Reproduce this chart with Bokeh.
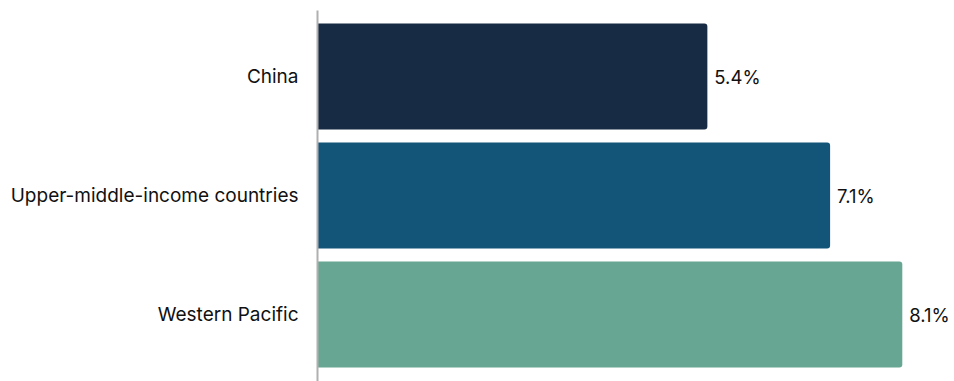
from bokeh.plotting import figure
from bokeh.models import Range1d, FixedTicker, ColumnDataSource
from bokeh.core.properties import value
from bokeh.embed import file_html
from bokeh.resources import INLINE

categories = ["China", "Upper-middle-income countries", "Western Pacific"]
values = [5.4, 7.1, 8.1]
colors = ["#172b45", "#125578", "#67a692"]
labels = ["5.4%", "7.1%", "8.1%"]
ypos = [0, 1, 2]

src = ColumnDataSource(dict(y=ypos, v=values, c=colors, t=labels))

p = figure(width=954, height=381, output_backend="svg", toolbar_location=None,
           x_range=Range1d(0, 8.823), y_range=Range1d(2.563, -0.555),
           min_border_left=317, min_border_right=0, min_border_top=10, min_border_bottom=0)
p.outline_line_color = None
p.grid.visible = False
p.xaxis.visible = False
p.background_fill_color = "white"

p.hbar(y="y", right="v", left=0, height=0.89, fill_color="c", line_color=None,
       border_radius=(0, 3, 3, 0), source=src)
p.text(x="v", y="y", text="t", x_offset=7, text_baseline="middle", text_align="left",
       text_font=value("Inter"), text_font_size="18.5px", text_color="#111111", source=src)

ya = p.yaxis[0]
ya.ticker = FixedTicker(ticks=ypos)
ya.major_label_overrides = {i: c for i, c in zip(ypos, categories)}
ya.major_tick_line_color = None
ya.minor_tick_line_color = None
ya.axis_line_color = "#b0b0b0"
ya.axis_line_width = 2
ya.major_label_text_font = "Inter"
ya.major_label_text_font_size = "19px"
ya.major_label_text_color = "#111111"
ya.major_label_standoff = 13

open("out.html", "w").write(file_html(p, INLINE))
